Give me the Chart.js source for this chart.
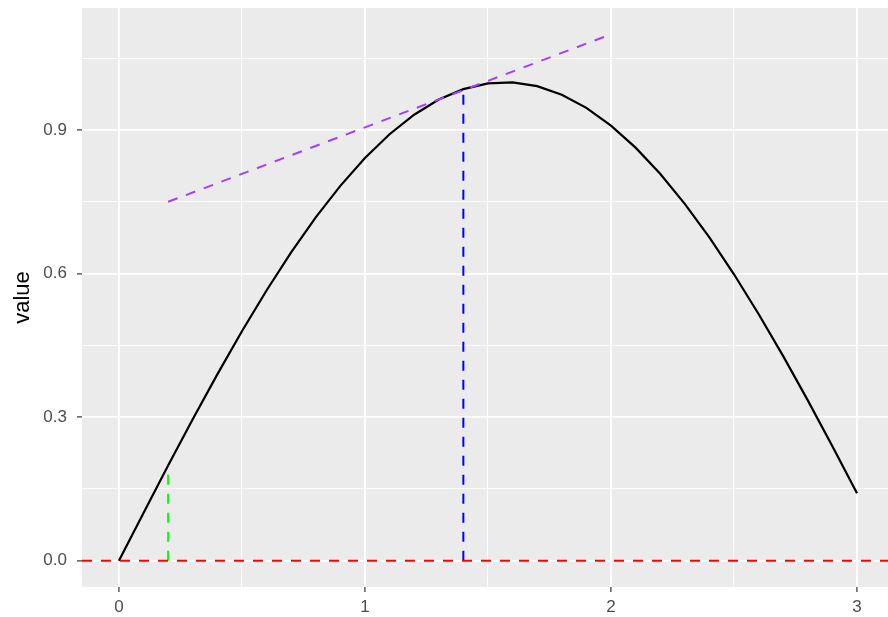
<!DOCTYPE html>
<html>
<head>
<meta charset="utf-8">
<script src="https://cdn.jsdelivr.net/npm/chart.js@4"></script>
<style>
  html, body { margin: 0; padding: 0; background: #fff; overflow: hidden; }
  #wrap { width: 888px; height: 617px; }
</style>
</head>
<body>
<div id="wrap"><canvas id="chart" width="888" height="617"></canvas></div>
<script>
// curve samples
const curveX = [0, 0.1, 0.2, 0.3, 0.4, 0.5, 0.6, 0.7, 0.8, 0.9, 1.0, 1.1, 1.2, 1.3, 1.4, 1.5,
                1.6, 1.7, 1.8, 1.9, 2.0, 2.1, 2.2, 2.3, 2.4, 2.5, 2.6, 2.7, 2.8, 2.9, 3.0];
const curveY = [0, 0.0998, 0.1987, 0.2955, 0.3894, 0.4794, 0.5646, 0.6442, 0.7174, 0.7833,
                0.8415, 0.8912, 0.9320, 0.9636, 0.9854, 0.9975, 0.9996, 0.9917, 0.9738, 0.9463,
                0.9093, 0.8632, 0.8085, 0.7457, 0.6755, 0.5985, 0.5155, 0.4274, 0.3350, 0.2392, 0.1411];

// straight guide lines
const slopeX = [0.2, 2.0];
const slopeY = [0.75, 1.1];
const greenX = [0.2, 0.2];
const greenY = [0, 0.1987];
const blueX = [1.4, 1.4];
const blueY = [0, 0.9854];
const zeroY = 0;

// axes
const xMin = -0.15, xMax = 3.126;
const yMin = -0.055, yMax = 1.155;
const xTicks = [0, 0.5, 1, 1.5, 2, 2.5, 3];
const xLabels = ["0", "", "1", "", "2", "", "3"];
const yTicks = [0, 0.15, 0.3, 0.45, 0.6, 0.75, 0.9, 1.05];
const yLabels = ["0.0", "", "0.3", "", "0.6", "", "0.9", ""];

const FONT = "'Liberation Sans', Arial, sans-serif";

function pts(xs, ys) {
    return xs.map((x, i) => ({ x: x, y: ys[i] }));
}

const panelBg = {
    id: 'panelBg',
    beforeDraw(chart) {
        const { ctx, chartArea: a } = chart;
        ctx.save();
        ctx.fillStyle = '#ffffff';
        ctx.fillRect(0, 0, chart.width, chart.height);
        ctx.fillStyle = '#ebebeb';
        ctx.fillRect(a.left, a.top, a.right - a.left, a.bottom - a.top);
        ctx.restore();
    }
};

function dashed(data, color, order) {
    return {
        data: data,
        borderColor: color,
        borderWidth: 2,
        borderDash: [10, 9],
        showLine: true,
        pointRadius: 0,
        tension: 0,
        order: order
    };
}

const isMajor = (list, labels, v) => labels[list.indexOf(v)] !== "";

new Chart(document.getElementById('chart').getContext('2d'), {
    type: 'scatter',
    data: {
        datasets: [
            {
                data: pts(curveX, curveY),
                borderColor: '#000000',
                borderWidth: 2.2,
                showLine: true,
                pointRadius: 0,
                tension: 0,
                order: 5
            },
            dashed(pts(slopeX, slopeY), '#a040ff', 4),
            dashed(pts(greenX, greenY), '#00ff00', 3),
            dashed(pts(blueX, blueY), '#0000ff', 2),
            dashed([{ x: xMin, y: zeroY }, { x: xMax, y: zeroY }], '#ff0000', 1)
        ]
    },
    options: {
        responsive: false,
        animation: false,
        layout: { padding: { top: 8, right: 0, left: 0, bottom: 0 } },
        plugins: { legend: { display: false }, tooltip: { enabled: false } },
        scales: {
            x: {
                type: 'linear',
                min: xMin,
                max: xMax,
                afterBuildTicks: s => { s.ticks = xTicks.map(v => ({ value: v })); },
                afterFit: s => { s.height = 30; s.paddingLeft = 0; s.paddingRight = 0; },
                border: { display: false },
                grid: {
                    color: '#ffffff',
                    lineWidth: c => isMajor(xTicks, xLabels, c.tick.value) ? 1.8 : 0.9,
                    tickColor: c => isMajor(xTicks, xLabels, c.tick.value) ? '#333333' : 'rgba(0,0,0,0)',
                    tickLength: 5,
                    tickWidth: 1.2
                },
                ticks: {
                    autoSkip: false,
                    maxRotation: 0,
                    padding: 5,
                    color: '#4d4d4d',
                    font: { family: FONT, size: 17 },
                    callback: v => xLabels[xTicks.indexOf(v)] ?? ""
                }
            },
            y: {
                type: 'linear',
                min: yMin,
                max: yMax,
                afterBuildTicks: s => { s.ticks = yTicks.map(v => ({ value: v })); },
                afterFit: s => { s.width = 82; s.paddingTop = 0; s.paddingBottom = 0; },
                border: { display: false },
                grid: {
                    color: '#ffffff',
                    lineWidth: c => isMajor(yTicks, yLabels, c.tick.value) ? 1.8 : 0.9,
                    tickColor: c => isMajor(yTicks, yLabels, c.tick.value) ? '#333333' : 'rgba(0,0,0,0)',
                    tickLength: 5,
                    tickWidth: 1.2
                },
                ticks: {
                    autoSkip: false,
                    padding: 10,
                    color: '#4d4d4d',
                    font: { family: FONT, size: 17 },
                    callback: v => yLabels[yTicks.indexOf(v)] ?? ""
                },
                title: {
                    display: true,
                    text: 'value',
                    color: '#000000',
                    padding: { top: 10, bottom: 0 },
                    font: { family: FONT, size: 22 }
                }
            }
        }
    },
    plugins: [panelBg]
});
</script>
</body>
</html>
